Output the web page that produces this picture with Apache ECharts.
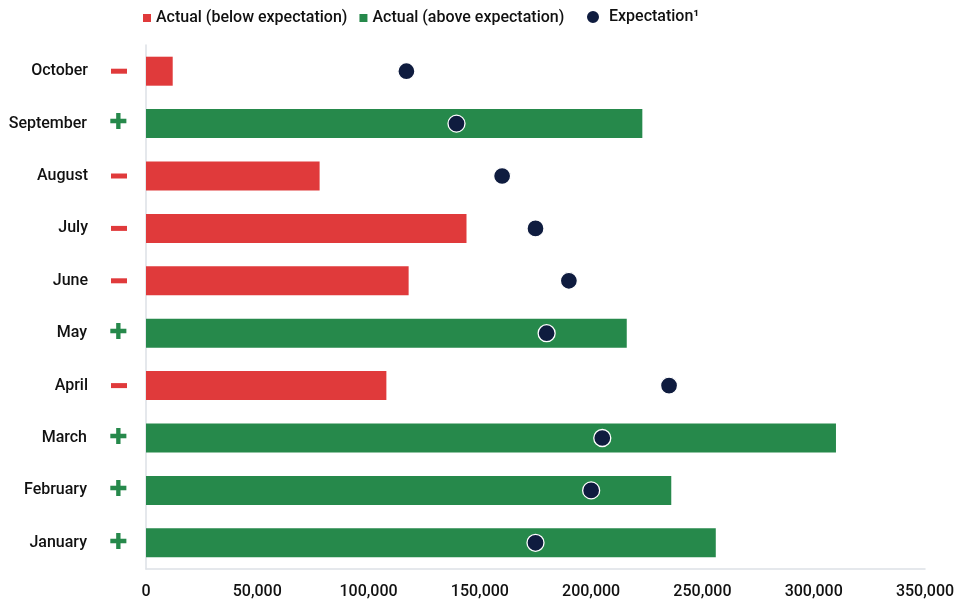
<!DOCTYPE html>
<html>
<head>
<meta charset="utf-8">
<script src="https://cdn.jsdelivr.net/npm/echarts@6/dist/echarts.min.js"></script>
<style>html,body{margin:0;padding:0;background:#fff}#c{width:960px;height:608px}</style>
</head>
<body>
<div id="c"></div>
<script>
const months = ['January','February','March','April','May','June','July','August','September','October'];
const actual = [256000, 236000, 310000, 108000, 216000, 118000, 144000, 78000, 223000, 12000];
const expectation = [175000, 200000, 205000, 235000, 180000, 190000, 175000, 160000, 139500, 117000];
const xTicks = [0, 50000, 100000, 150000, 200000, 250000, 300000, 350000];

const RED = '#e03a3b', GREEN = '#26894b', NAVY = '#0f1c3f';
const above = actual.map((v, i) => v >= expectation[i] ? v : null);
const below = actual.map((v, i) => v < expectation[i] ? v : null);

const chart = echarts.init(document.getElementById('c'));
const font = 'Roboto, "Noto Sans", sans-serif';
chart.setOption({
  animation: false,
  textStyle: { fontFamily: font },
  grid: { left: 146, right: 35, top: 45, bottom: 39 },
  legend: [{
    top: 5, left: 138, itemWidth: 8, itemHeight: 8, itemGap: 12,
    icon: 'rect',
    textStyle: { fontSize: 16, fontWeight: 500, color: '#111', fontFamily: font },
    data: ['Actual (below expectation)', 'Actual (above expectation)']
  }, {
    top: 4, left: 580, itemWidth: 14, itemHeight: 14,
    icon: 'circle',
    textStyle: { fontSize: 16, fontWeight: 500, color: '#111', fontFamily: font, padding: [0, 0, 0, 4] },
    data: ['Expectation¹']
  }],
  xAxis: {
    type: 'value', min: 0, max: 350000, interval: 50000,
    axisLine: { show: true, onZero: false, lineStyle: { color: '#dde1e6', width: 1.5 } },
    axisTick: { show: false },
    splitLine: { show: false },
    axisLabel: {
      fontSize: 16, fontWeight: 500, color: '#111', margin: 15,
      formatter: v => xTicks.includes(v) ? v.toLocaleString('en-US') : ''
    }
  },
  yAxis: {
    type: 'category', data: months,
    axisLine: { show: true, lineStyle: { color: '#dde1e6', width: 1.5 } },
    axisTick: { show: false },
    axisLabel: {
      margin: 19,
      formatter: (v, i) => {
        const up = actual[i] >= expectation[i];
        return '{n|' + v + '}{g|}' + (up ? '{p|✚}' : '{m|}');
      },
      rich: {
        n: { fontSize: 16, fontWeight: 500, color: '#111', fontFamily: font },
        g: { width: 23 },
        p: { fontSize: 22, color: GREEN, width: 17, align: 'center', fontFamily: 'DejaVu Sans' },
        m: { width: 16, height: 5, backgroundColor: RED }
      }
    }
  },
  series: [{
    name: 'Actual (below expectation)', type: 'bar', data: below,
    barWidth: 29, barGap: '-100%', itemStyle: { color: RED }
  }, {
    name: 'Actual (above expectation)', type: 'bar', data: above,
    barWidth: 29, barGap: '-100%', itemStyle: { color: GREEN }
  }, {
    name: 'Expectation¹', type: 'scatter', data: expectation,
    symbolSize: 17, z: 5,
    itemStyle: { color: NAVY, opacity: 1, borderColor: '#fff', borderWidth: 1.3 }
  }]
});
</script>
</body>
</html>
